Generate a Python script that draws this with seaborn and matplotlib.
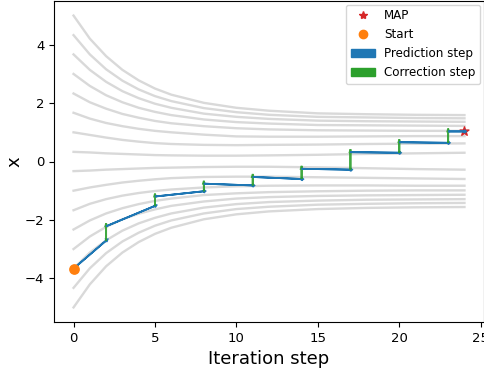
import numpy as np
import pandas as pd
import matplotlib
matplotlib.use("Agg")
import matplotlib.pyplot as plt
import matplotlib.patches as mpatches
from matplotlib.lines import Line2D
import seaborn as sns

# ---- data ----
t_grid = [0, 1, 2, 3, 4, 5, 6, 8, 10, 12, 15, 18, 21, 24]
flow_curves = [
    [5.00, 4.21, 3.61, 3.14, 2.78, 2.50, 2.29, 2.01, 1.84, 1.74, 1.65, 1.62, 1.60, 1.59],
    [4.33, 3.67, 3.16, 2.77, 2.47, 2.24, 2.07, 1.83, 1.69, 1.60, 1.53, 1.51, 1.49, 1.48],
    [3.67, 3.14, 2.73, 2.41, 2.17, 1.98, 1.84, 1.64, 1.53, 1.46, 1.40, 1.38, 1.37, 1.36],
    [3.00, 2.59, 2.27, 2.03, 1.84, 1.70, 1.59, 1.44, 1.35, 1.30, 1.25, 1.24, 1.23, 1.22],
    [2.33, 2.03, 1.81, 1.63, 1.50, 1.39, 1.31, 1.21, 1.14, 1.10, 1.07, 1.06, 1.05, 1.05],
    [1.67, 1.47, 1.32, 1.21, 1.12, 1.05, 1.00, 0.92, 0.86, 0.85, 0.85, 0.86, 0.87, 0.87],
    [1.00, 0.91, 0.82, 0.74, 0.68, 0.63, 0.60, 0.57, 0.56, 0.57, 0.58, 0.60, 0.61, 0.62],
    [0.33, 0.31, 0.28, 0.26, 0.24, 0.22, 0.21, 0.20, 0.20, 0.21, 0.23, 0.26, 0.28, 0.30],
    [-0.33, -0.31, -0.28, -0.26, -0.24, -0.22, -0.21, -0.19, -0.18, -0.18, -0.20, -0.23, -0.26, -0.28],
    [-1.00, -0.89, -0.80, -0.72, -0.66, -0.61, -0.57, -0.53, -0.52, -0.52, -0.54, -0.56, -0.58, -0.60],
    [-1.67, -1.45, -1.29, -1.17, -1.08, -1.01, -0.96, -0.89, -0.85, -0.83, -0.82, -0.82, -0.83, -0.83],
    [-2.33, -2.02, -1.78, -1.60, -1.46, -1.35, -1.27, -1.15, -1.09, -1.05, -1.02, -1.00, -0.99, -0.99],
    [-3.00, -2.57, -2.24, -1.98, -1.79, -1.64, -1.52, -1.37, -1.27, -1.22, -1.18, -1.16, -1.15, -1.14],
    [-3.67, -3.12, -2.70, -2.37, -2.12, -1.93, -1.78, -1.58, -1.46, -1.39, -1.34, -1.31, -1.30, -1.29],
    [-4.33, -3.66, -3.14, -2.74, -2.44, -2.20, -2.02, -1.78, -1.63, -1.55, -1.48, -1.45, -1.43, -1.42],
    [-5.00, -4.21, -3.59, -3.12, -2.76, -2.48, -2.27, -1.98, -1.81, -1.71, -1.63, -1.59, -1.57, -1.56],
]

step_t = [0, 2, 5, 8, 11, 14, 17, 20, 23, 24]
start_x = -3.67
pred_end = [-2.71, -1.52, -1.02, -0.82, -0.60, -0.28, 0.30, 0.64, 1.03]
corr_end = [-2.22, -1.20, -0.76, -0.53, -0.25, 0.32, 0.66, 1.03]
map_t, map_x = 24, 1.03

legend_labels = ["MAP", "Start", "Prediction step", "Correction step"]

# ---- figure ----
fig = plt.figure(figsize=(4.84, 3.70), dpi=100)
ax = fig.add_axes([54 / 484, 48 / 370, 430 / 484, 321 / 370])

rows = []
for i, curve in enumerate(flow_curves):
    for t, v in zip(t_grid, curve):
        rows.append({"t": t, "x": v, "curve": i})
df = pd.DataFrame(rows)
sns.lineplot(data=df, x="t", y="x", units="curve", estimator=None,
             color="#d9d9d9", lw=1.7, ax=ax, legend=False, zorder=1)

# start and MAP
ax.scatter([step_t[0]], [start_x], color="C1", s=45, zorder=4)
ax.scatter([map_t], [map_x], color="C3", marker="*", s=45, zorder=2)

# prediction / correction arrows
cur = start_x
for k in range(len(pred_end)):
    t0, t1 = step_t[k], step_t[k + 1]
    ax.arrow(t0, cur, t1 - t0, pred_end[k] - cur, width=0.0,
             head_width=0.1, head_length=0.1, length_includes_head=False,
             color="C0", lw=1.3, zorder=3)
    if k < len(corr_end):
        ax.arrow(t1, pred_end[k], 0, corr_end[k] - pred_end[k], width=0.0,
                 head_width=0.1, head_length=0.1, length_includes_head=False,
                 color="C2", lw=1.3, zorder=3, alpha=0.9)
        cur = corr_end[k]

ax.set_xlim(-1.2, 25.2)
ax.set_ylim(-5.5, 5.5)
ax.set_xticks([0, 5, 10, 15, 20, 25])
ax.set_yticks([-4, -2, 0, 2, 4])
ax.tick_params(labelsize=9.5)
ax.set_xlabel("Iteration step", fontsize=13)
ax.set_ylabel("x", fontsize=13)
ax.yaxis.set_label_coords(-0.072, 0.5)

handles = [
    Line2D([], [], marker="*", color="C3", linestyle="none", markersize=6),
    Line2D([], [], marker="o", color="C1", linestyle="none", markersize=6),
    mpatches.Patch(color="C0"),
    mpatches.Patch(color="C2"),
]
ax.legend(handles, legend_labels, loc="upper right", fontsize=8.6,
          borderaxespad=0.3)

fig.savefig("out.png", dpi=100)
